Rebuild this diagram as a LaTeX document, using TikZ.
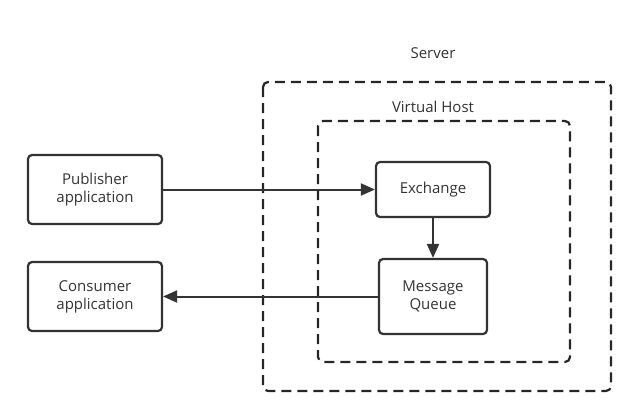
\documentclass[tikz,border=0pt]{standalone}
\usepackage{fontspec}
\setmainfont{Open Sans}
\usetikzlibrary{arrows.meta}
\tikzset{
	appbox/.style={draw=black!80,line width=2.2pt,rounded corners=4pt,align=center,minimum width=134pt,minimum height=69pt,font=\fontsize{15}{18}\selectfont,text=black!80},
	hostbox/.style={draw=black!85,line width=2.2pt,dash pattern=on 10pt off 6pt,rounded corners=5pt},
	link/.style={draw=black!80,line width=2pt,-{Triangle[length=14pt,width=12pt]}}
}
\begin{document}
\begin{tikzpicture}[x=1pt,y=-1pt]
		\useasboundingbox (0,0) rectangle (640,420);
		\draw[hostbox] (263,82) rectangle (611,391);
		\draw[hostbox] (318,121) rectangle (570,362);
		\node[font=\fontsize{15}{18}\selectfont,text=black!80] (server) at (433,53) {Server};
		\node[font=\fontsize{15}{18}\selectfont,text=black!80] (vhost) at (433,107) {Virtual Host};
		\node[appbox] (pub) at (95,189.5) {Publisher\\application};
		\node[appbox] (con) at (95,296.5) {Consumer\\application};
		\node[appbox,minimum width=114pt,minimum height=55pt] (ex) at (433,189.5) {Exchange};
		\node[appbox,minimum width=108pt,minimum height=75pt] (mq) at (433,296.5) {Message\\Queue};
		\draw[link] (pub) -- (ex);
		\draw[link] (ex) -- (mq);
		\draw[link] (mq) -- (con);
		\end{tikzpicture}
\end{document}
